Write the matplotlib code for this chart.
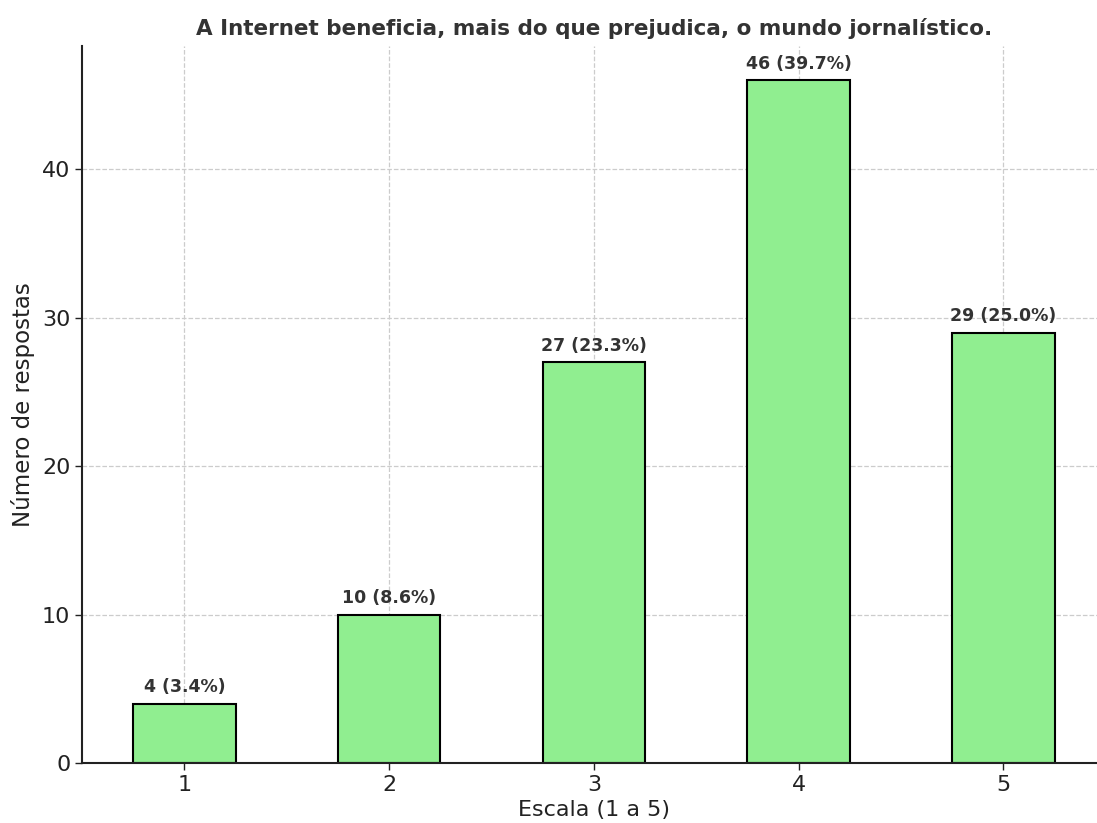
import matplotlib

matplotlib.use("Agg")
import matplotlib.pyplot as plt

scale = [1, 2, 3, 4, 5]
counts = [4, 10, 27, 46, 29]
percents = [3.4, 8.6, 23.3, 39.7, 25.0]

title = "A Internet beneficia, mais do que prejudica, o mundo jornalístico."

fig = plt.figure(figsize=(10.97, 8.23), dpi=100)
ax = fig.add_axes([0.0748, 0.0729, 0.9332, 0.8712])

bars = ax.bar(scale, counts, width=0.5, color="lightgreen", edgecolor="black", linewidth=1.5, zorder=2)
for bar, n, p in zip(bars, counts, percents):
    ax.text(bar.get_x() + bar.get_width() / 2, n + 0.5, f"{n} ({p:.1f}%)",
            ha="center", va="bottom", fontsize=12.5, fontweight="bold", color="#333333")

ax.set_xlim(0.5, 5.5)
ax.set_ylim(0, 48.3)
ax.set_xticks(scale)
ax.set_yticks([0, 10, 20, 30, 40])
ax.tick_params(labelsize=16, colors="#222222", length=5, width=1)
ax.set_xlabel("Escala (1 a 5)", fontsize=16, color="#222222", labelpad=4)
ax.set_ylabel("Número de respostas", fontsize=16.5, color="#222222", labelpad=5)
ax.set_title(title, fontsize=15.5, fontweight="bold", color="#333333", pad=8)

ax.grid(True, linestyle="--", color="#cccccc", linewidth=0.9, zorder=0)
ax.set_axisbelow(True)
for side in ("top", "right"):
    ax.spines[side].set_visible(False)
for side in ("left", "bottom"):
    ax.spines[side].set_linewidth(1.5)
    ax.spines[side].set_color("#222222")

fig.savefig("out.png", dpi=100)
